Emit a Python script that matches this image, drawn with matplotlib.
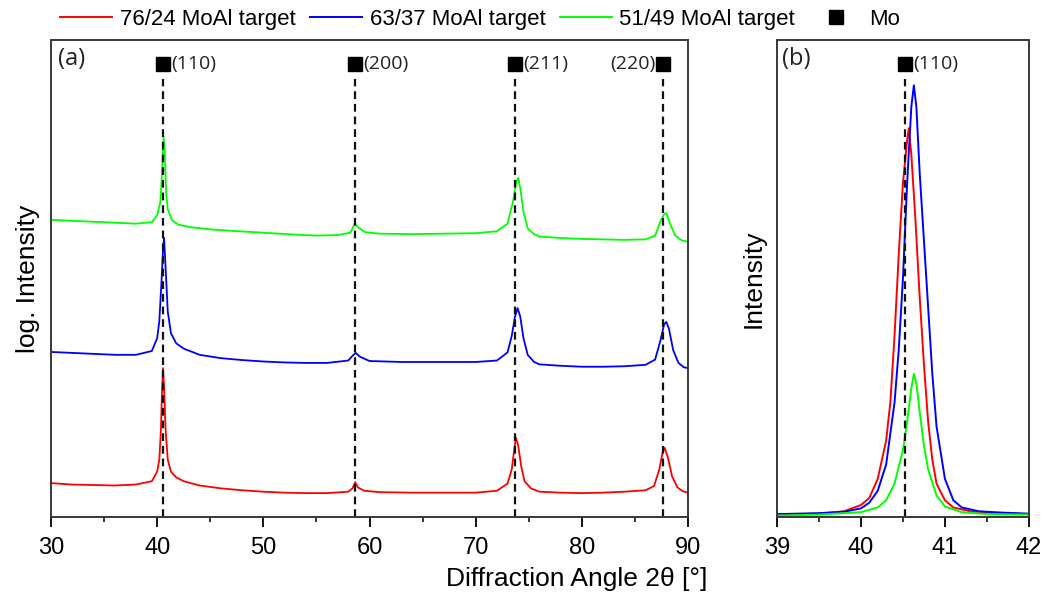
import numpy as np
import matplotlib
matplotlib.use("Agg")
import matplotlib.pyplot as plt
from matplotlib.lines import Line2D
from matplotlib.ticker import MultipleLocator

# =====================================================
# Data (y in arbitrary offset units)
# =====================================================

labels = ["76/24 MoAl target", "63/37 MoAl target", "51/49 MoAl target"]
colors = ["#ff0000", "#0000ff", "#00ff00"]

# panel (a) - log intensity, stacked
red_a_x = [30, 32, 34, 36, 38, 39.5, 40.0, 40.2, 40.35, 40.45, 40.55, 40.65, 40.8, 41.0, 41.3, 41.8, 42.5,
           44, 46, 48, 50, 52, 54, 56, 58, 58.4, 58.65, 58.9, 59.5, 61, 64, 67, 70, 72,
           73.0, 73.4, 73.65, 73.8, 74.0, 74.3, 74.6, 75.2, 76, 78, 80, 82, 84, 86,
           86.8, 87.3, 87.6, 87.8, 88.1, 88.5, 89, 89.5, 90]
red_a_y = [7.1, 6.8, 6.7, 6.6, 6.8, 7.5, 9.5, 12, 18, 26, 31.2, 27, 18, 12, 9.5, 8.3, 7.5,
           6.6, 6.0, 5.6, 5.3, 5.1, 5.0, 5.0, 5.3, 6.0, 7.3, 6.2, 5.5, 5.2, 5.1, 5.1, 5.1, 5.5,
           7, 10, 14.5, 16.6, 15, 10.5, 7.5, 6, 5.3, 5.1, 5.0, 5.1, 5.3, 5.6,
           6.5, 10, 13.5, 14.5, 12.5, 8.5, 6.2, 5.4, 5.1]

blue_a_x = [30, 32, 34, 36, 38, 39.5, 40.0, 40.2, 40.4, 40.55, 40.65, 40.8, 41.0, 41.3, 41.8, 42.5,
            44, 46, 48, 50, 52, 54, 56, 58, 58.4, 58.7, 59.1, 60, 63, 66, 70, 72,
            73.0, 73.4, 73.7, 73.95, 74.2, 74.5, 74.9, 75.5, 76, 78, 80, 82, 84, 86,
            86.9, 87.4, 87.75, 87.95, 88.2, 88.6, 89.1, 89.6, 90]
blue_a_y = [34.6, 34.4, 34.2, 34.0, 34.0, 34.8, 37.5, 41, 49, 56, 58.5, 52, 43, 38.5, 36.4, 35.3,
            34, 33.3, 32.9, 32.6, 32.4, 32.3, 32.3, 32.8, 33.8, 34.4, 33.6, 32.7, 32.5, 32.5, 32.5, 32.8,
            34.5, 38, 42, 43.8, 42, 37.5, 34, 32.5, 32, 31.7, 31.5, 31.5, 31.6, 31.9,
            33, 37, 40.4, 40.9, 39.5, 35, 32.3, 31.4, 31.2]

green_a_x = [30, 32, 34, 36, 38, 39.5, 40.0, 40.3, 40.45, 40.6, 40.72, 40.85, 41.0, 41.4, 42, 43,
             45, 47, 50, 53, 55, 57, 58.2, 58.6, 59.0, 59.6, 61, 64, 67, 70, 72,
             73.0, 73.5, 73.85, 74.0, 74.2, 74.5, 74.9, 75.5, 76, 78, 80, 82, 84, 86,
             86.9, 87.4, 87.75, 87.95, 88.3, 88.8, 89.4, 90]
green_a_y = [62.3, 62.1, 61.9, 61.7, 61.5, 61.8, 63.3, 66, 72, 79.7, 76, 68, 64.5, 62.2, 61.3, 60.8,
             60.3, 60.0, 59.6, 59.2, 59.0, 59.1, 59.6, 61.5, 60.6, 59.7, 59.4, 59.3, 59.4, 59.5, 59.9,
             61.5, 66, 70.5, 71.1, 69, 64, 60.5, 59.3, 58.8, 58.5, 58.3, 58.2, 58.1, 58.2,
             59, 62, 63.5, 63.7, 61.5, 59, 58, 57.7]

# panel (b) - linear intensity around Mo (110)
red_b_x = [39.0, 39.5, 39.8, 40.0, 40.1, 40.2, 40.3, 40.35, 40.4, 40.45, 40.5, 40.55, 40.57, 40.6,
           40.65, 40.7, 40.75, 40.8, 40.85, 40.9, 41.0, 41.1, 41.3, 41.6, 42.0]
red_b_y = [0.5, 0.7, 1.2, 2.5, 4, 8, 16, 24, 38, 55, 70, 79, 81.5, 76,
           62, 46, 32, 20, 12, 7, 3.5, 2, 1.2, 0.8, 0.6]

blue_b_x = [39.0, 39.5, 39.8, 40.0, 40.1, 40.2, 40.3, 40.4, 40.45, 40.5, 40.55, 40.6, 40.63, 40.66,
            40.7, 40.75, 40.8, 40.85, 40.9, 41.0, 41.1, 41.2, 41.4, 41.7, 42.0]
blue_b_y = [0.6, 0.8, 1.1, 1.8, 3, 5.5, 11, 24, 35, 50, 70, 86, 90.5, 86,
            72, 58, 44, 30, 19, 8, 3.5, 2, 1.2, 0.9, 0.7]

green_b_x = [39.0, 39.5, 40.0, 40.2, 40.3, 40.4, 40.5, 40.55, 40.6, 40.63, 40.66, 40.7, 40.75,
             40.8, 40.9, 41.0, 41.2, 41.5, 42.0]
green_b_y = [0.3, 0.5, 1, 2, 3.5, 7, 14, 20, 27, 30, 28, 22, 15,
             10, 4.5, 2.2, 1, 0.6, 0.5]

# Mo reference reflections
mo_pos = [40.55, 58.63, 73.7, 87.65]
mo_hkl = ["(110)", "(200)", "(211)", "(220)"]

# =====================================================
# Figure
# =====================================================

main_font = ["Liberation Sans", "DejaVu Sans"]
note_font = ["Open Sans", "DejaVu Sans"]
dash = (0, (3.5, 2.2))

fig = plt.figure(figsize=(10.45, 5.93), dpi=100)
ax1 = fig.add_axes([0.0488, 0.1282, 0.6096, 0.8043])
ax2 = fig.add_axes([0.7435, 0.1282, 0.2411, 0.8043])

series_a = [(red_a_x, red_a_y), (blue_a_x, blue_a_y), (green_a_x, green_a_y)]
series_b = [(red_b_x, red_b_y), (blue_b_x, blue_b_y), (green_b_x, green_b_y)]

for (x, y), c in zip(series_a, colors):
    ax1.plot(x, y, color=c, lw=1.3)

for (x, y), c in zip(series_b, colors):
    ax2.plot(x, y, color=c, lw=1.4)

# dashed reference lines and labels
for pos, hkl in zip(mo_pos, mo_hkl):
    ax1.plot([pos, pos], [0, 91.8], color="#111111", ls=dash, lw=1.6)
    ax1.plot(pos, 95.0, marker="s", color="black", ms=9.5)
    if hkl == "(220)":
        ax1.text(pos - 0.75, 95.0, hkl, ha="right", va="center", fontsize=14,
                 family=note_font, color="#222222")
    else:
        ax1.text(pos + 0.75, 95.0, hkl, ha="left", va="center", fontsize=14,
                 family=note_font, color="#222222")

ax2.plot([40.52, 40.52], [0, 91.8], color="#111111", ls=dash, lw=1.6)
ax2.plot(40.52, 95.0, marker="s", color="black", ms=9.5)
ax2.text(40.62, 95.0, "(110)", ha="left", va="center", fontsize=14, family=note_font, color="#222222")

ax1.text(0.011, 0.985, "(a)", transform=ax1.transAxes, ha="left", va="top", fontsize=17,
         family=note_font, color="#222222")
ax2.text(0.02, 0.985, "(b)", transform=ax2.transAxes, ha="left", va="top", fontsize=17,
         family=note_font, color="#222222")

# axes styling
ax1.set_xlim(30, 90)
ax1.set_ylim(0, 100)
ax1.xaxis.set_major_locator(MultipleLocator(10))
ax1.xaxis.set_minor_locator(MultipleLocator(5))

ax2.set_xlim(39, 42)
ax2.set_ylim(0, 100)
ax2.xaxis.set_major_locator(MultipleLocator(1))
ax2.xaxis.set_minor_locator(MultipleLocator(0.5))

for ax in (ax1, ax2):
    ax.set_yticks([])
    ax.tick_params(axis="x", which="major", direction="out", length=7, width=1.3, pad=7.5, labelsize=17)
    ax.tick_params(axis="x", which="minor", direction="out", length=3.5, width=1.1)
    for lab in ax.get_xticklabels():
        lab.set_family(main_font)
    for sp in ax.spines.values():
        sp.set_linewidth(1.4)
        sp.set_color("#383838")

ax1.set_ylabel("log. Intensity", fontsize=19, family=main_font, labelpad=8)
ax2.set_ylabel("Intensity", fontsize=19, family=main_font, labelpad=8)
fig.text(0.552, 0.012, "Diffraction Angle 2\u03b8 [\u00b0]", ha="center", va="baseline",
         fontsize=19, family=main_font)

# legend
handles = [Line2D([0], [0], color=c, lw=1.4) for c in colors]
handles.append(Line2D([0], [0], color="black", marker="s", ls="none", ms=10))
fig.legend(handles, labels + ["Mo"], loc="center left", bbox_to_anchor=(0.0574, 0.967), ncol=4,
           frameon=False, handlelength=2.35, handletextpad=0.33, columnspacing=0.66,
           borderpad=0, borderaxespad=0, prop={"family": main_font, "size": 16})

plt.savefig("out.png", dpi=100)
